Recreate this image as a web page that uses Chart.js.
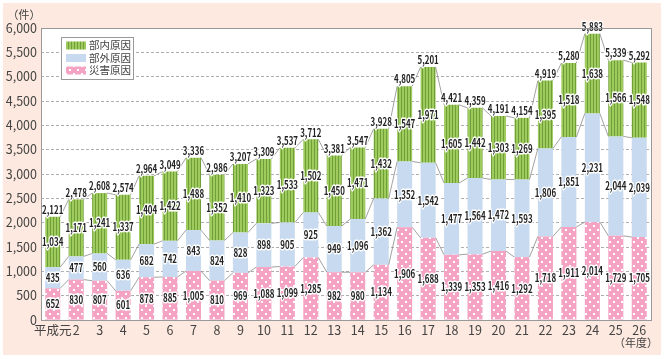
<!DOCTYPE html>
<html lang="ja">
<head>
<meta charset="UTF-8">
<script src="https://cdn.jsdelivr.net/npm/chart.js"></script>
<style>
  body { margin: 0; background: #fff; }
</style>
</head>
<body>
<canvas id="myChart" width="664" height="359"></canvas>
<script>
const years = ['平成元','2','3','4','5','6','7','8','9','10','11','12','13','14','15','16','17','18','19','20','21','22','23','24','25','26'];
const saigai = [652,830,807,601,878,885,1005,810,969,1088,1099,1285,982,980,1134,1906,1688,1339,1353,1416,1292,1718,1911,2014,1729,1705];
const bugai  = [435,477,560,636,682,742,843,824,828,898,905,925,949,1096,1362,1352,1542,1477,1564,1472,1593,1806,1851,2231,2044,2039];
const bunai  = [1034,1171,1241,1337,1404,1422,1488,1352,1410,1323,1533,1502,1450,1471,1432,1547,1971,1605,1442,1303,1269,1395,1518,1638,1566,1548];
const totals = [2121,2478,2608,2574,2964,3049,3336,2986,3207,3309,3537,3712,3381,3547,3928,4805,5201,4421,4359,4191,4154,4919,5280,5883,5339,5292];

const canvas = document.getElementById('myChart');
const ctx = canvas.getContext('2d');
const fontNum = "'Liberation Sans Narrow', 'Noto Sans CJK JP', sans-serif";

function makePattern(w, h, draw) {
    const c = document.createElement('canvas');
    c.width = w; c.height = h;
    draw(c.getContext('2d'));
    return ctx.createPattern(c, 'repeat');
}
const greenPat = makePattern(3, 3, g => {
    g.fillStyle = '#9fca5e'; g.fillRect(0, 0, 3, 3);
    g.fillStyle = '#6f9f38'; g.fillRect(2, 0, 1, 3);
});
const pinkPat = makePattern(8, 8, g => {
    g.fillStyle = '#f4a3c3'; g.fillRect(0, 0, 8, 8);
    g.fillStyle = '#ffffff';
    g.fillRect(1, 1, 2, 2);
    g.fillRect(5, 5, 2, 2);
});
const blueCol = '#c8daef';

function fmt(v) { return v.toLocaleString('en-US'); }

function drawLabel(c, text, x, y) {
    c.save();
    c.translate(x, y);
    c.scale(0.72, 1);
    c.font = 'bold 11px ' + fontNum;
    c.textAlign = 'center';
    c.textBaseline = 'middle';
    c.lineJoin = 'round';
    c.lineWidth = 3;
    c.strokeStyle = '#ffffff';
    c.strokeText(text, 0, 0);
    c.fillStyle = '#222';
    c.fillText(text, 0, 0);
    c.restore();
}

const bgPlugin = {
    id: 'bg',
    beforeDraw(chart) {
        const c = chart.ctx, a = chart.chartArea;
        c.save();
        c.fillStyle = '#fde9df';
        c.fillRect(3, 3, 658, 352);
        c.fillStyle = '#ffffff';
        c.fillRect(a.left, a.top, a.right - a.left, a.bottom - a.top);
        c.restore();
    },
    afterDraw(chart) {
        const c = chart.ctx, a = chart.chartArea;
        c.save();
        c.strokeStyle = '#999';
        c.lineWidth = 1;
        c.strokeRect(Math.round(a.left) + 0.5, Math.round(a.top) + 0.5, Math.round(a.right - a.left), Math.round(a.bottom - a.top));
        // unit labels
        c.fillStyle = '#444';
        c.font = "11px 'Noto Sans CJK JP', sans-serif";
        c.textBaseline = 'middle';
        c.textAlign = 'center';
        c.fillText('（件）', 24, 15);
        c.fillText('（年度）', 636, 343);
        // legend
        const lx = 61, ly = 37;
        c.fillStyle = '#fff';
        c.fillRect(lx, ly, 72, 42);
        c.strokeStyle = '#999';
        c.strokeRect(lx + 0.5, ly + 0.5, 72, 42);
        const items = [[greenPat, '部内原因'], [blueCol, '部外原因'], [pinkPat, '災害原因']];
        c.font = "10.5px 'Noto Sans CJK JP', sans-serif";
        c.textAlign = 'left';
        items.forEach((it, i) => {
            const yy = ly + 8.5 + i * 12.5;
            c.fillStyle = it[0];
            c.fillRect(lx + 5, yy - 4, 20, 8);
            c.fillStyle = '#444';
            c.fillText(it[1], lx + 28, yy);
        });
        c.restore();
    },
    afterDatasetsDraw(chart) {
        const c = chart.ctx;
        const metas = [0, 1, 2].map(i => chart.getDatasetMeta(i));
        // connector lines between bars
        c.save();
        c.strokeStyle = '#8a8a8a';
        c.lineWidth = 0.8;
        metas.forEach(m => {
            for (let i = 0; i < m.data.length - 1; i++) {
                const a = m.data[i], b = m.data[i + 1];
                c.beginPath();
                c.moveTo(a.x + a.width / 2, a.y);
                c.lineTo(b.x - b.width / 2, b.y);
                c.stroke();
            }
        });
        c.restore();
        // value labels
        metas.forEach((m, di) => {
            const vals = chart.data.datasets[di].data;
            m.data.forEach((el, i) => {
                drawLabel(c, fmt(vals[i]), el.x, (el.y + el.base) / 2);
            });
        });
        metas[2].data.forEach((el, i) => {
            drawLabel(c, fmt(totals[i]), el.x, el.y - 7);
        });
    }
};

new Chart(ctx, {
    type: 'bar',
    data: {
        labels: years,
        datasets: [
            { label: '災害原因', data: saigai, backgroundColor: pinkPat },
            { label: '部外原因', data: bugai, backgroundColor: blueCol },
            { label: '部内原因', data: bunai, backgroundColor: greenPat }
        ]
    },
    options: {
        responsive: false,
        animation: false,
        layout: { padding: { left: 0, right: 13, top: 28, bottom: 0 } },
        datasets: { bar: { categoryPercentage: 1, barPercentage: 0.64 } },
        plugins: { legend: { display: false }, tooltip: { enabled: false } },
        scales: {
            x: {
                stacked: true,
                grid: { display: false, drawTicks: false },
                border: { display: false },
                ticks: { color: '#444', font: { family: fontNum, size: 12.5 }, padding: 3, maxRotation: 0, autoSkip: false },
                afterFit(s) { s.height = 39; }
            },
            y: {
                stacked: true,
                min: 0, max: 6000,
                grid: { color: '#9a9a9a', lineWidth: 0.8, drawTicks: false },
                border: { display: false, dash: [3, 2] },
                ticks: { stepSize: 500, color: '#444', padding: 4, font: { family: fontNum, size: 12.5 }, callback: v => fmt(v) },
                afterFit(s) { s.width = 41; }
            }
        }
    },
    plugins: [bgPlugin]
});
</script>
</body>
</html>
